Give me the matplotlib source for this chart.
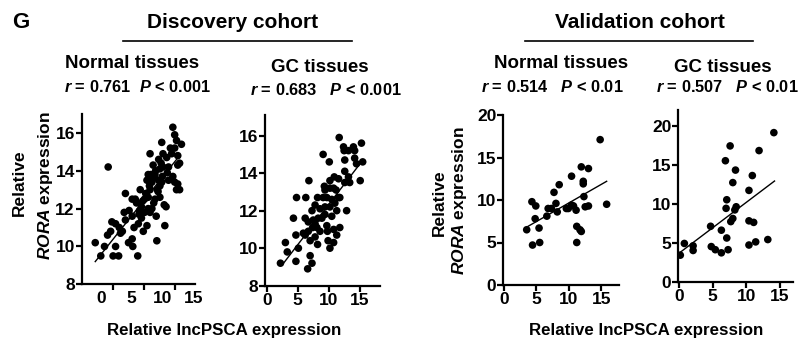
import matplotlib
matplotlib.use("Agg")
import matplotlib.pyplot as plt
from matplotlib.lines import Line2D

plt.rcParams['font.family'] = ['Liberation Sans', 'DejaVu Sans']
plt.rcParams['font.weight'] = 'bold'
plt.rcParams['mathtext.fontset'] = 'custom'
plt.rcParams['mathtext.it'] = 'Liberation Sans:italic:bold'
plt.rcParams['mathtext.rm'] = 'Liberation Sans:bold'

# Discovery cohort, normal tissues
dn_x = [-0.9, 1.2, 0.0, 0.6, 1.1, 1.6, 2.0, 2.4, 2.4, 2.9, 3.2, 3.5, 4.0, 4.0, 4.5,
        5.1, 5.2, 5.1, 5.1, 5.4, 5.6, 6.0, 6.1, 6.4, 6.6, 6.6, 6.9, 7.1, 7.1, 7.5,
        7.7, 7.7, 8.0, 8.0, 8.3, 7.5, 7.7, 8.0, 8.3, 8.5, 8.5, 8.8, 8.8, 9.0, 9.1,
        9.2, 9.4, 9.4, 9.6, 9.6, 9.6, 9.9, 9.9, 10.1, 10.1, 10.3, 10.6, 10.4, 10.7,
        11.0, 11.0, 11.7, 12.0, 12.0, 12.3, 12.5, 12.5, 12.0, 12.3, 12.5, 13.1, 12.8,
        11.7, 11.5, 3.0, 4.6, 5.8, 6.3, 7.3, 8.1, 8.9, 9.3, 10.0, 6.8, 7.9, 8.6, 1.8,
        3.8, 6.2, 9.8, 11.3, 12.8, 10.8]
dn_y = [10.2, 14.2, 9.5, 10.0, 10.6, 10.8, 9.5, 10.0, 11.2, 9.5, 10.7, 10.8, 12.8, 11.4, 10.2,
        10.4, 10.0, 11.6, 12.5, 11.0, 12.5, 9.5, 11.2, 13.0, 12.1, 11.5, 10.8, 11.8, 12.5, 11.1,
        12.0, 12.6, 13.0, 11.8, 12.0, 13.5, 13.8, 14.9, 13.4, 13.6, 14.3, 13.8, 12.5, 11.6, 10.3,
        13.0, 13.5, 14.6, 14.1, 13.2, 12.6, 13.4, 15.5, 14.9, 14.2, 12.2, 12.1, 11.1, 14.7,
        14.2, 13.5, 16.3, 15.9, 15.2, 15.6, 14.8, 14.3, 13.4, 13.0, 13.3, 15.4, 14.4,
        13.7, 14.9, 11.0, 11.9, 12.3, 11.9, 12.8, 13.8, 14.0, 12.9, 13.7, 12.4, 13.2, 12.3, 11.3,
        11.8, 11.7, 14.4, 15.2, 13.0, 13.9]
dn_fit_x = [-0.9, 12.8]
dn_fit_y = [9.2, 14.8]

# Discovery cohort, GC tissues
dg_x = [2.2, 3.0, 3.3, 4.3, 4.7, 4.8, 4.7, 5.1, 6.2, 6.3, 6.2, 6.6, 6.7, 6.8, 7.0,
        7.0, 7.3, 7.3, 7.4, 7.5, 7.8, 7.8, 8.2, 8.2, 8.3, 8.6, 8.9, 9.1, 9.1, 9.3,
        9.4, 9.4, 9.7, 9.8, 9.9, 10.1, 10.2, 10.2, 10.2, 10.5, 10.5, 10.8, 10.9, 11.0,
        11.2, 11.3, 11.6, 11.6, 11.7, 11.8, 12.4, 12.5, 12.6, 12.6, 12.9, 13.2, 13.4,
        14.0, 14.2, 14.2, 14.5, 15.1, 15.3, 15.5, 12.6, 11.3, 10.8, 10.2, 9.7, 8.6,
        7.8, 6.7, 5.9, 8.1, 9.4, 11.8, 10.8, 13.2]
dg_y = [9.2, 10.3, 9.8, 11.6, 9.3, 12.7, 10.7, 10.0, 10.7, 12.7, 11.6, 8.9, 10.9, 13.6, 10.4,
        9.6, 9.2, 12.0, 11.1, 11.5, 11.3, 10.6, 12.7, 10.2, 11.6, 10.9, 11.6, 12.7, 15.0, 13.3,
        13.1, 11.8, 11.2, 10.9, 10.4, 14.6, 13.6, 12.2, 10.0, 12.6, 11.7, 10.3, 13.8, 12.4,
        13.1, 10.7, 13.7, 12.7, 15.9, 11.1, 15.4, 15.2, 14.7, 14.1, 12.0, 13.8, 13.5,
        15.4, 15.2, 14.8, 14.5, 13.6, 15.6, 14.6, 13.5, 12.0, 13.2, 13.2, 12.7, 12.1,
        12.3, 11.4, 10.8, 11.1, 12.2, 12.7, 11.0, 15.2]
dg_fit_x = [2.7, 15.3]
dg_fit_y = [9.2, 14.6]

# Validation cohort, normal tissues
vn_x = [3.5, 4.3, 4.4, 4.8, 4.9, 5.4, 5.5, 6.6, 6.8, 7.3, 7.7, 8.0, 8.2, 8.5, 9.6,
        9.9, 10.4, 10.4, 10.7, 11.1, 11.2, 11.2, 11.7, 11.9, 11.9, 12.2, 12.2, 12.3,
        12.5, 13.0, 13.0, 14.8, 15.8]
vn_y = [6.5, 9.8, 4.7, 7.8, 9.3, 6.7, 5.0, 8.1, 9.0, 9.0, 10.9, 9.6, 8.6, 11.8, 9.0,
        9.0, 12.8, 9.4, 9.3, 8.8, 6.9, 5.0, 6.5, 6.3, 13.9, 12.2, 11.9, 10.4,
        9.2, 13.7, 9.3, 17.1, 9.5]
vn_fit_x = [3.7, 15.8]
vn_fit_y = [6.9, 12.2]

# Validation cohort, GC tissues
vg_x = [0.2, 0.8, 2.1, 2.1, 4.7, 4.8, 5.4, 6.3, 6.3, 6.9, 7.1, 7.0, 7.1, 7.3, 7.6,
        7.7, 8.0, 8.0, 8.4, 8.3, 8.5, 10.4, 10.4, 10.4, 10.9, 11.1, 11.4, 11.9, 13.2, 14.1]
vg_y = [3.4, 4.9, 4.6, 4.0, 7.1, 4.5, 4.1, 3.7, 6.6, 15.5, 10.5, 9.4, 5.6, 4.1, 17.4,
        7.7, 8.1, 12.7, 14.3, 9.2, 9.6, 7.8, 11.7, 4.7, 13.6, 7.6, 5.1, 16.8, 5.4, 19.1]
vg_fit_x = [-0.15, 14.2]
vg_fit_y = [3.55, 12.9]

W, H = 801, 343
fig = plt.figure(figsize=(W / 100, H / 100), dpi=100)

TICK_FS = 12.5


def px_axes(left, right, top, bottom):
    return fig.add_axes([left / W, 1 - bottom / H, (right - left) / W, (bottom - top) / H])


def ftext(x, y, s, **kw):
    fig.text(x / W, 1 - y / H, s, fontweight='bold', **kw)


def style(ax, xlim, ylim, yticks):
    for side in ('top', 'right'):
        ax.spines[side].set_visible(False)
    for side in ('left', 'bottom'):
        ax.spines[side].set_linewidth(1.6)
    ax.set_xlim(*xlim)
    ax.set_ylim(*ylim)
    ax.set_yticks(yticks)
    ax.tick_params(axis='both', which='major', length=4, width=1.6, labelsize=TICK_FS, pad=1)
    for lab in ax.get_xticklabels() + ax.get_yticklabels():
        lab.set_fontweight('bold')


panels = [
    (px_axes(81.7, 195, 114, 284.3), dn_x, dn_y, dn_fit_x, dn_fit_y, (-3.1, 15.3), (8, 17.0), [8, 10, 12, 14, 16]),
    (px_axes(265, 380, 115, 285.7), dg_x, dg_y, dg_fit_x, dg_fit_y, (-0.3, 18.3), (8, 17.1), [8, 10, 12, 14, 16]),
    (px_axes(503.3, 619, 115, 285), vn_x, vn_y, vn_fit_x, vn_fit_y, (-0.1, 17.7), (0, 20), [0, 5, 10, 15, 20]),
    (px_axes(678.3, 792.7, 110, 281.7), vg_x, vg_y, vg_fit_x, vg_fit_y, (-0.1, 16.9), (0, 22), [0, 5, 10, 15, 20]),
]

for i, (ax, x, y, fx, fy, xl, yl, yt) in enumerate(panels):
    ax.scatter(x, y, s=30, color='black', edgecolors='none', zorder=3)
    ax.plot(fx, fy, color='black', lw=1.0, zorder=2)
    style(ax, xl, yl, yt)
    if i == 0:
        # tick marks sit right of the labels in this panel
        ax.set_xticks([2, 7, 12])
        ax.set_xticklabels([])
        ax.set_xticks([0, 5, 10, 15], minor=True)
        ax.set_xticklabels(['0', '5', '10', '15'], minor=True, fontsize=TICK_FS, fontweight='bold')
        ax.tick_params(axis='x', which='minor', length=0, pad=5)
    else:
        ax.set_xticks([0, 5, 10, 15])
        for lab in ax.get_xticklabels():
            lab.set_fontweight('bold')

# headers
ftext(12, 22, 'G', fontsize=16, ha='left', va='center')
ftext(233, 22, 'Discovery cohort', fontsize=15, ha='center', va='center')
ftext(640, 22, 'Validation cohort', fontsize=15, ha='center', va='center')
fig.add_artist(Line2D([123 / W, 352 / W], [1 - 40.7 / H] * 2, color='black', lw=1.2))
fig.add_artist(Line2D([525 / W, 753 / W], [1 - 41 / H] * 2, color='black', lw=1.2))

ftext(132, 64, 'Normal tissues', fontsize=13.5, ha='center', va='center')
ftext(320, 68, 'GC tissues', fontsize=13.5, ha='center', va='center')
ftext(561, 64, 'Normal tissues', fontsize=13.5, ha='center', va='center')
ftext(723, 68, 'GC tissues', fontsize=13.5, ha='center', va='center')

ftext(138, 87, r'$r$ = 0.761  $P$ < 0.001', fontsize=11.8, ha='center', va='center')
ftext(326, 90, r'$r$ = 0.683   $P$ < 0.001', fontsize=11.8, ha='center', va='center')
ftext(552, 87, r'$r$ = 0.514   $P$ < 0.01', fontsize=11.8, ha='center', va='center')
ftext(727, 87, r'$r$ = 0.507   $P$ < 0.01', fontsize=11.8, ha='center', va='center')

# axis labels
ftext(19, 183, 'Relative', fontsize=12.5, rotation=90, ha='center', va='center')
ftext(46, 186, r'$RORA$ expression', fontsize=12.5, rotation=90, ha='center', va='center')
ftext(439, 203, 'Relative', fontsize=12.5, rotation=90, ha='center', va='center')
ftext(460, 201, r'$RORA$ expression', fontsize=12.5, rotation=90, ha='center', va='center')
ftext(224.5, 330, 'Relative lncPSCA expression', fontsize=12.2, ha='center', va='center')
ftext(646.5, 330, 'Relative lncPSCA expression', fontsize=12.2, ha='center', va='center')

fig.savefig('out.png', dpi=100)
